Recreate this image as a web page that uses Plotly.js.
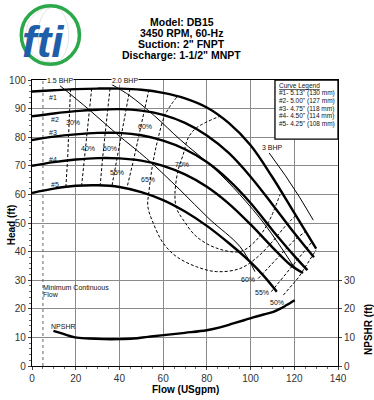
<!DOCTYPE html>
<html><head><meta charset="utf-8">
<script src="https://cdn.plot.ly/plotly-3.0.1.min.js"></script>
<style>html,body{margin:0;padding:0;background:#fff}#chart{width:374px;height:400px}</style>
</head><body><div id="chart"></div>
<script>
// ---- Head curves (flow USgpm, head ft) ----
const flow1=[0,10,20,30,40,50,60,70,80,90,100,110,120,130];
const head1=[96,96.4,96.8,97,97,96.6,95.5,93.6,90.4,85,77.2,66,53.5,41];
const flow2=[0,10,20,30,40,50,60,70,80,90,100,110,120,129];
const head2=[87.3,88.3,89.1,89.6,89.8,89.3,87.8,85,80.6,74.5,66.2,56.5,46.5,38];
const flow3=[0,10,20,30,40,50,60,70,80,90,100,110,120,126];
const head3=[79,80.2,81,81.5,81.5,80.7,78.8,75.8,71.3,65,57,47.5,38.5,33.5];
const flow4=[0,10,20,30,40,50,60,70,80,90,100,110,118,124];
const head4=[70,71.3,72.2,72.7,72.6,71.8,70,67,62.7,56.8,49.5,41.5,35.5,32.5];
const flow5=[0,10,20,30,40,50,60,70,80,90,100,106,112];
const head5=[60.5,62,63,63.2,62.6,60.8,58,54,49,43,36.3,31.5,26];
const curveNames=["#1","#2","#3","#4","#5"];
const curveLegend=["#1- 5.13\" (130 mm)","#2- 5.00\" (127 mm)","#3- 4.75\" (118 mm)","#4- 4.50\" (114 mm)","#5- 4.25\" (108 mm)"];

// ---- BHP lines ----
const bhp15Flow=[12.8,26,39,52.5,67.7,81,95.2,102];
const bhp15Head=[98,89.7,81,72.5,61.6,51.5,41.7,33];
const bhp20Flow=[36.5,44.8,56,68,83,95,107,120];
const bhp20Head=[98.4,94.5,87.5,79,69.3,60,49,34.5];
const bhp30Flow=[108.5,116,122.6,128.7];
const bhp30Head=[74.5,66.5,58.8,51];

// ---- Efficiency contours ----
const eff30Flow=[17.6,17.3,16.9,16.3,15.5];
const eff30Head=[96.8,89.3,81.2,72.4,62.6];
const eff40Flow=[27.3,26.3,25.2,24,22.7];
const eff40Head=[97,89.7,81.4,72.6,63];
const eff50Flow=[35.7,34.8,33.5,32.3,31.2];
const eff50Head=[97,89.8,81.5,72.7,63.2];
const eff55Flow=[44.8,43,41,38.8,36.6];
const eff55Head=[96.9,89.7,81.5,72.7,63.1];
const eff60Flow=[53.5,51.5,49,46.5,43.5];
const eff60Head=[96.6,89.4,81,72.2,62.5];
const eff65Flow=[66.2,61,57.5,55.2,53.5,53,55.5,60.1,66.2,75.3,84.5,95.2,103,110,116,120.5];
const eff65Head=[94,88,79,70.5,61,55.8,49.9,42.9,38.2,34.7,33,34.1,38,43.5,49,52.5];
const eff70Flow=[86.5,75.3,71.5,69.2,66.8,65.4,66.2,69.2,75.3,84.5,95.2,102,108,113.5];
const eff70Head=[87.5,83.3,79.8,74,68.3,60,55,51.1,45.2,41.2,40,43.5,50,60];
const eff60rFlow=[103.5,113.4,120,125];
const eff60rHead=[30.6,38.8,44,47];
const eff55rFlow=[109.5,117,124,128];
const eff55rHead=[26,33,39.5,43.3];
const eff50rFlow=[115,122,130];
const eff50rHead=[24.8,31,40.6];

// ---- NPSHR ----
const npFlow=[9.8,14,19.7,26,32.6,40,46.4,53,60.2,70,79.9,86,92.1,97,101.2,106,110.4,114,116.5,120.2];
const npHead=[12.3,11.3,10,9.6,9.4,9.4,9.6,10.2,10.8,11.6,12.5,13.5,14.9,16,17,18,18.9,20.2,21.3,23];

const heavy={color:'#000',width:2.4};
const thin={color:'#000',width:1};
const dash={color:'#000',width:1,dash:'3px,2px'};
function tr(x,y,line,yaxis){return {x:x,y:y,type:'scatter',mode:'lines',line:line,hoverinfo:'skip',showlegend:false,yaxis:yaxis||'y'};}

const data=[
 tr([5,5],[0,100],{color:'#666',width:1,dash:'dot'}),
 tr(eff30Flow,eff30Head,dash),tr(eff40Flow,eff40Head,dash),tr(eff50Flow,eff50Head,dash),
 tr(eff55Flow,eff55Head,dash),tr(eff60Flow,eff60Head,dash),
 {...tr(eff65Flow,eff65Head,dash),line:{...dash,shape:'spline'}},
 {...tr(eff70Flow,eff70Head,dash),line:{...dash,shape:'spline'}},
 tr(eff60rFlow,eff60rHead,dash),tr(eff55rFlow,eff55rHead,dash),tr(eff50rFlow,eff50rHead,dash),
 {...tr(bhp15Flow,bhp15Head,thin),line:{...thin,shape:'spline'}},
 {...tr(bhp20Flow,bhp20Head,thin),line:{...thin,shape:'spline'}},
 tr(bhp30Flow,bhp30Head,thin),
 {...tr(flow1,head1,heavy),line:{...heavy,shape:'spline'}},
 {...tr(flow2,head2,heavy),line:{...heavy,shape:'spline'}},
 {...tr(flow3,head3,heavy),line:{...heavy,shape:'spline'}},
 {...tr(flow4,head4,heavy),line:{...heavy,shape:'spline'}},
 {...tr(flow5,head5,heavy),line:{...heavy,shape:'spline'}},
 {...tr(npFlow,npHead,heavy,'y2'),line:{...heavy,shape:'spline'}}
];

const F='"Liberation Sans", Arial, sans-serif';
function lab(x,y,t,size,extra){return Object.assign({x:x,y:y,xref:'x',yref:'y',text:t,showarrow:false,xanchor:'center',yanchor:'middle',font:{family:F,size:size||7,color:'#111'}},extra||{});}
function pap(x,y,t,size,extra){return Object.assign({x:x,y:y,xref:'paper',yref:'paper',text:t,showarrow:false,xanchor:'center',yanchor:'middle',font:{family:F,size:size||7,color:'#111'}},extra||{});}
const titleFont={family:F,size:10.5,color:'#000'};

const annotations=[
 lab(9.8,93.9,curveNames[0]),lab(10.5,86.3,curveNames[1]),lab(9.8,81.6,curveNames[2]),lab(9.8,72.2,curveNames[3]),lab(10.5,63.3,curveNames[4]),
 lab(18.6,85,'30%'),lab(25.8,76.2,'40%'),lab(35.7,76.2,'50%'),lab(38.7,67.5,'55%'),
 lab(51.7,83.8,'60%'),lab(53.2,65.1,'65%'),lab(68.5,70.6,'70%'),
 lab(98.8,30.4,'60%'),lab(105.2,25.8,'55%'),lab(112.1,22.3,'50%'),
 lab(12.8,100,'1.5 BHP',7,{bgcolor:'#fff',borderpad:0}),lab(42.5,100,'2.0 BHP',7,{bgcolor:'#fff',borderpad:0}),
 lab(110,76.5,'3 BHP',7,{bgcolor:'#fff',borderpad:0}),
 lab(4.3,27.5,'Minimum Continuous',7,{xanchor:'left'}),lab(4.3,24.9,'Flow',7,{xanchor:'left'}),
 lab(14.3,13.9,'NPSHR',7),
 pap(0.49,1.2016,'<b>Model: DB15</b>',10.5,{font:titleFont}),
 pap(0.49,1.163,'<b>3450 RPM, 60-Hz</b>',10.5,{font:titleFont}),
 pap(0.49,1.127,'<b>Suction: 2" FNPT</b>',10.5,{font:titleFont}),
 pap(0.49,1.089,'<b>Discharge: 1-1/2" MNPT</b>',10.5,{font:titleFont}),
 pap(0.036,1.135,'<b><i>fti</i></b>',44,{font:{family:F,size:44,color:'#1f5ea8'}}),
 pap(0.802,0.98,'<u>Curve Legend</u>',6.5,{xanchor:'left'}),
 pap(0.802,0.954,curveLegend[0],6.5,{xanchor:'left'}),
 pap(0.802,0.927,curveLegend[1],6.5,{xanchor:'left'}),
 pap(0.802,0.900,curveLegend[2],6.5,{xanchor:'left'}),
 pap(0.802,0.873,curveLegend[3],6.5,{xanchor:'left'}),
 pap(0.802,0.847,curveLegend[4],6.5,{xanchor:'left'}),
 pap(-0.066,0.495,'<b>Head (ft)</b>',10,{textangle:-90,font:{family:F,size:10,color:'#000'}}),
 pap(0.5,-0.082,'<b>Flow (USgpm)</b>',10,{font:{family:F,size:10,color:'#000'}}),
 pap(1.1,0.128,'<b>NPSHR (ft)</b>',10,{textangle:-90,font:{family:F,size:10,color:'#000'}})
];

const shapes=[
 {type:'rect',xref:'paper',yref:'paper',x0:0.794,x1:1.0,y0:0.793,y1:1.0,line:{color:'#000',width:1.3},fillcolor:'#fff',layer:'above'},
 {type:'circle',xref:'paper',yref:'paper',x0:-0.02,x1:0.16,y0:1.06,y1:1.255,line:{color:'#e4e4e4',width:1}},
 {type:'circle',xref:'paper',yref:'paper',x0:0.02,x1:0.12,y0:1.06,y1:1.255,line:{color:'#e4e4e4',width:1}},
 {type:'circle',xref:'paper',yref:'paper',x0:-0.035,x1:0.155,y0:1.055,y1:1.26,line:{color:'#2aa84a',width:3.5}}
];

const axisCommon={showline:true,linecolor:'#000',linewidth:1.2,mirror:true,showgrid:true,gridcolor:'#8a8a8a',gridwidth:1,
 ticks:'outside',ticklen:3,tickcolor:'#444',tickfont:{family:F,size:10,color:'#333'},zeroline:false,fixedrange:true};

const layout={
 width:374,height:400,margin:{l:32,r:36,t:80,b:34},
 paper_bgcolor:'#fff',plot_bgcolor:'#fff',showlegend:false,
 xaxis:Object.assign({},axisCommon,{range:[0,140],dtick:20,minor:{dtick:5,ticks:'outside',ticklen:2,tickcolor:'#666'}}),
 yaxis:Object.assign({},axisCommon,{range:[0,100],dtick:10,minor:{dtick:2,ticks:'outside',ticklen:2,tickcolor:'#666'}}),
 yaxis2:{overlaying:'y',side:'right',range:[0,100],tickvals:[0,10,20,30],showgrid:false,zeroline:false,showline:false,
   ticks:'outside',ticklen:3,tickcolor:'#444',tickfont:{family:F,size:10,color:'#333'},fixedrange:true},
 annotations:annotations,shapes:shapes
};
Plotly.newPlot('chart',data,layout,{staticPlot:true,displayModeBar:false});
</script></body></html>
